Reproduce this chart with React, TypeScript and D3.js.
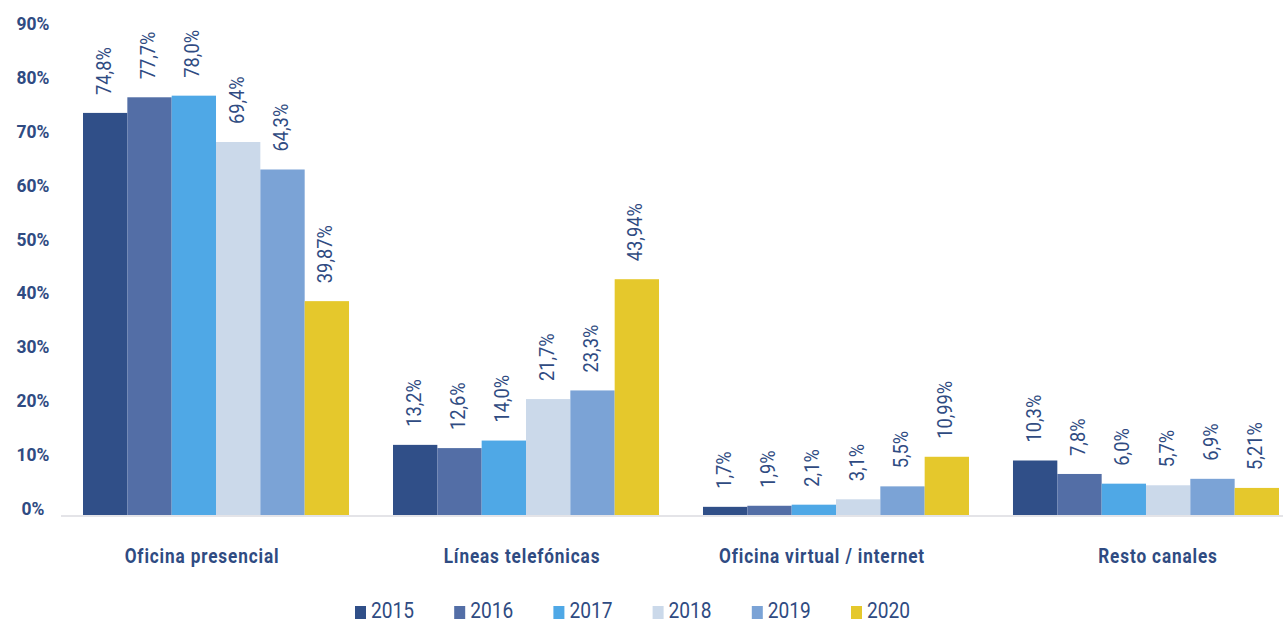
import React from "react";
import * as d3 from "d3";

const categories = [
  "Oficina presencial",
  "Líneas telefónicas",
  "Oficina virtual / internet",
  "Resto canales",
];
const years = ["2015", "2016", "2017", "2018", "2019", "2020"];
const values2015 = [74.8, 13.2, 1.7, 10.3];
const values2016 = [77.7, 12.6, 1.9, 7.8];
const values2017 = [78.0, 14.0, 2.1, 6.0];
const values2018 = [69.4, 21.7, 3.1, 5.7];
const values2019 = [64.3, 23.3, 5.5, 6.9];
const values2020 = [39.87, 43.94, 10.99, 5.21];
const seriesDecimals = [1, 1, 1, 1, 1, 2];
const yTicks = [0, 10, 20, 30, 40, 50, 60, 70, 80, 90];
const colors = ["#304f88", "#536ea6", "#4fa8e6", "#cbd9ea", "#7ba3d6", "#e5c82c"];

const series = [values2015, values2016, values2017, values2018, values2019, values2020];

// horizontal nudge of each category caption relative to its group centre
const captionShift = [-14, -4, -14, 12];

const W = 1283;
const H = 622;
const TEXT = "#2f4b82";
const FONT = "Roboto, 'DejaVu Sans', sans-serif";
// narrow the glyphs a little to get a condensed look
const CONDENSE = 0.87;

export default function App() {
  const x0 = d3.scaleBand<string>().domain(categories).range([61, 1301]).paddingInner(0.1419).paddingOuter(0.071);
  const x1 = d3.scaleBand<string>().domain(years).range([0, x0.bandwidth()]).padding(0);
  const y = d3.scaleLinear().domain([0, 90]).range([516, 31]);
  const fmt = (v: number, d: number) => v.toFixed(d).replace(".", ",") + "%";

  const legendX = d3.scalePoint<string>().domain(years).range([355, 851]);

  return (
    <svg width={W} height={H} style={{ position: "absolute", left: 0, top: 0, background: "#fff" }} fontFamily={FONT}>
      {yTicks.map((t) => (
        <text
          key={t}
          transform={`translate(33,${y(t) - 6}) scale(0.92,1)`}
          textAnchor="middle"
          dominantBaseline="middle"
          fontSize={19}
          fontWeight={700}
          fill={TEXT}
        >
          {t}%
        </text>
      ))}
      <line x1={61} x2={W} y1={516} y2={516} stroke="#e4e4e8" strokeWidth={2} />
      {categories.map((c, ci) => (
        <g key={c} transform={`translate(${x0(c)},0)`}>
          {series.map((s, si) => {
            const bx = x1(years[si])!;
            const bw = x1.bandwidth();
            const v = s[ci];
            return (
              <g key={si}>
                <rect x={bx} y={y(v)} width={bw} height={515 - y(v)} fill={colors[si]} />
                <text
                  transform={`translate(${bx + bw / 2},${y(v) - 18}) rotate(-90) scale(${CONDENSE},1)`}
                  dominantBaseline="middle"
                  fontSize={21}
                  fill={TEXT}
                >
                  {fmt(v, seriesDecimals[si])}
                </text>
              </g>
            );
          })}
          <text
            transform={`translate(${x0.bandwidth() / 2 + captionShift[ci]},563) scale(0.86,1)`}
            textAnchor="middle"
            fontSize={20}
            fontWeight={700}
            fill={TEXT}
            letterSpacing={1}
          >
            {c}
          </text>
        </g>
      ))}
      {years.map((yr, i) => (
        <g key={yr} transform={`translate(${legendX(yr)},0)`}>
          <rect x={0} y={606} width={11} height={13} fill={colors[i]} />
          <text transform={`translate(16,618) scale(${CONDENSE},1)`} fontSize={22} fill={TEXT}>
            {yr}
          </text>
        </g>
      ))}
    </svg>
  );
}
